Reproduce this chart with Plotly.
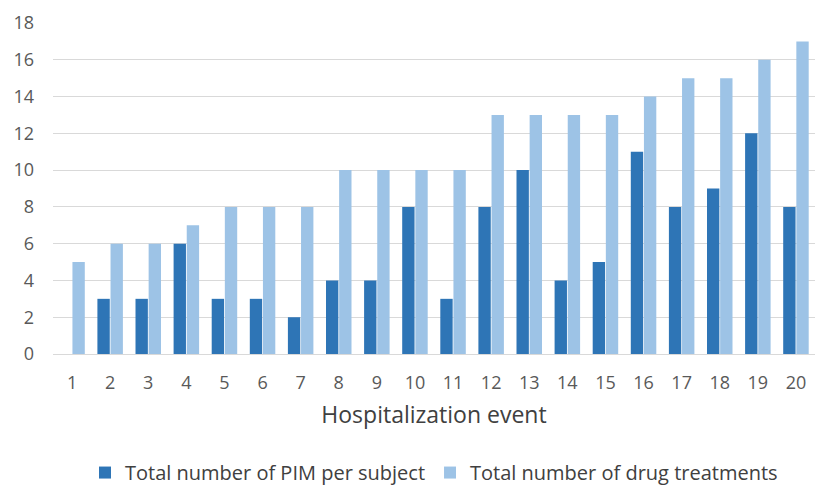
import plotly.graph_objects as go

events = [str(i) for i in range(1, 21)]
pim_per_subject = [0, 3, 3, 6, 3, 3, 2, 4, 4, 8, 3, 8, 10, 4, 5, 11, 8, 9, 12, 8]
drug_treatments = [5, 6, 6, 7, 8, 8, 8, 10, 10, 10, 10, 13, 13, 13, 13, 14, 15, 15, 16, 17]

FONT = "Open Sans"
TEXT_COLOR = "#595959"

fig = go.Figure()

fig.add_trace(go.Bar(
    x=events,
    y=pim_per_subject,
    name="Total number of PIM per subject",
    marker=dict(color="#2E75B6", line=dict(width=0)),
))

fig.add_trace(go.Bar(
    x=events,
    y=drug_treatments,
    name="Total number of drug treatments",
    marker=dict(color="#9DC3E6", line=dict(width=0)),
))

# page body keeps its default 8px margin, so the figure is sized to fit inside it
fig.update_layout(
    width=821,
    height=489,
    barmode="group",
    bargap=0.31,
    bargroupgap=0.06,
    plot_bgcolor="white",
    paper_bgcolor="white",
    margin=dict(l=45, r=14, t=15, b=143, autoexpand=False),
    font=dict(family=FONT, color=TEXT_COLOR, size=18),
    xaxis=dict(
        title=dict(text="Hospitalization event", font=dict(size=23, color="#404040"), standoff=13),
        tickfont=dict(size=18),
        showgrid=False,
        ticks="",
        showline=False,
        ticklabelstandoff=16,
        automargin=False,
    ),
    yaxis=dict(
        range=[0, 18],
        dtick=2,
        tickfont=dict(size=18),
        gridcolor="#D9D9D9",
        gridwidth=1.4,
        zeroline=True,
        zerolinecolor="#D9D9D9",
        zerolinewidth=1.4,
        ticklabelstandoff=18,
        automargin=False,
    ),
    legend=dict(
        orientation="h",
        x=0.5,
        xanchor="center",
        yref="container",
        y=0.05,
        yanchor="middle",
        font=dict(size=20, color="#404040"),
        itemwidth=30,
        traceorder="normal",
    ),
)

fig.write_html("out.html")
